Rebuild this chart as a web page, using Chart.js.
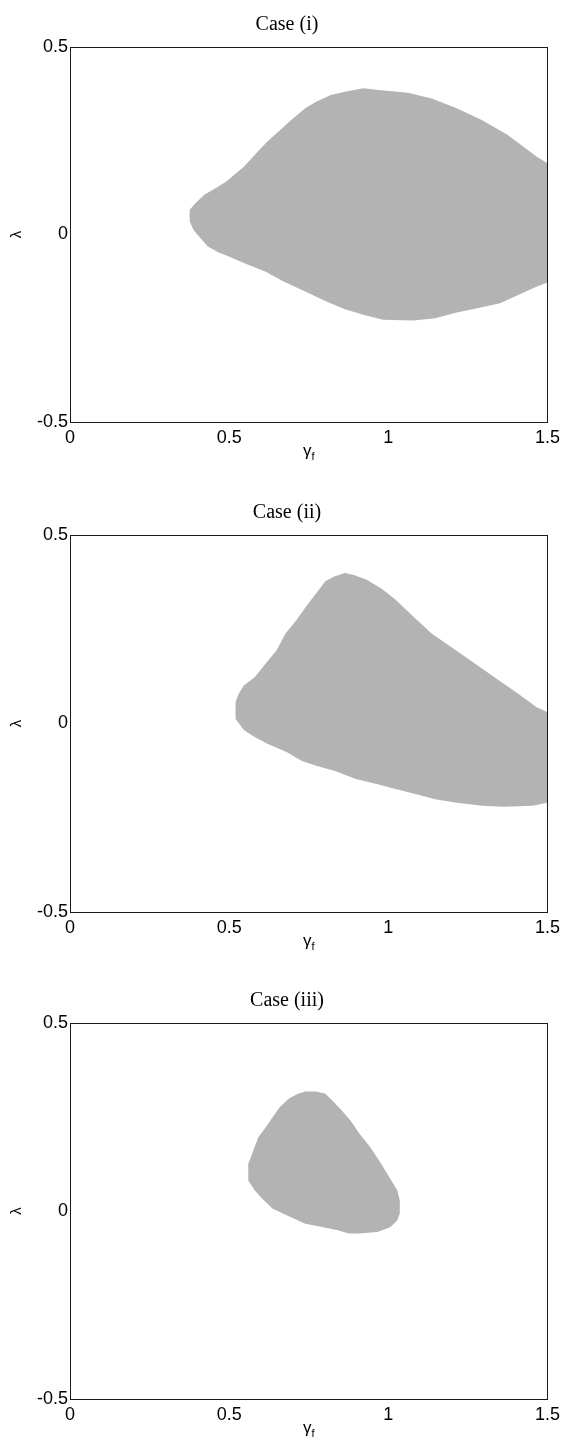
<!DOCTYPE html>
<html>
<head>
<meta charset="utf-8">
<script src="https://cdn.jsdelivr.net/npm/chart.js@4.4.1/dist/chart.umd.min.js"></script>
<style>
  html, body { margin: 0; padding: 0; background: #fff; }
  body { width: 565px; height: 1446px; position: relative; overflow: hidden; }
  canvas { position: absolute; left: 0; }
</style>
</head>
<body>
<canvas id="c1" width="565" height="480" style="top:0px"></canvas>
<canvas id="c2" width="565" height="480" style="top:480px"></canvas>
<canvas id="c3" width="565" height="486" style="top:960px"></canvas>
<script>
// ---- Data ----
const titles = ['Case (i)', 'Case (ii)', 'Case (iii)'];
const xTicks = [0, 0.5, 1, 1.5];
const xTickLabels = ['0', '0.5', '1', '1.5'];
const yTicks = [-0.5, 0, 0.5];
const yTickLabels = ['-0.5', '0', '0.5'];
const xLabelMain = 'γ';
const xLabelSub = 'f';
const yLabel = 'λ';

// Case (i): upper and lower boundary of the shaded region
const case1UpperGamma  = [0.376, 0.393, 0.422, 0.452, 0.490, 0.546, 0.580, 0.620, 0.654, 0.694, 0.739, 0.773, 0.819, 0.864, 0.921, 0.977, 1.062, 1.136, 1.215, 1.295, 1.374, 1.431, 1.465, 1.500];
const case1UpperLambda = [0.066, 0.083, 0.106, 0.121, 0.141, 0.181, 0.212, 0.248, 0.274, 0.305, 0.337, 0.354, 0.372, 0.381, 0.390, 0.385, 0.378, 0.363, 0.337, 0.305, 0.266, 0.230, 0.208, 0.190];
const case1LowerGamma  = [0.376, 0.388, 0.410, 0.433, 0.467, 0.501, 0.546, 0.615, 0.671, 0.739, 0.807, 0.864, 0.921, 0.983, 1.079, 1.147, 1.215, 1.283, 1.351, 1.408, 1.465, 1.500];
const case1LowerLambda = [0.035, 0.012, -0.010, -0.032, -0.048, -0.059, -0.076, -0.099, -0.125, -0.152, -0.179, -0.199, -0.214, -0.227, -0.229, -0.223, -0.208, -0.196, -0.183, -0.161, -0.139, -0.128];

// Case (ii)
const case2UpperGamma  = [0.520, 0.530, 0.546, 0.580, 0.615, 0.649, 0.677, 0.711, 0.745, 0.773, 0.802, 0.830, 0.864, 0.892, 0.932, 0.977, 1.023, 1.079, 1.136, 1.204, 1.272, 1.340, 1.408, 1.465, 1.500];
const case2UpperLambda = [0.057, 0.079, 0.101, 0.123, 0.159, 0.194, 0.239, 0.274, 0.314, 0.345, 0.377, 0.390, 0.399, 0.394, 0.381, 0.359, 0.328, 0.283, 0.239, 0.199, 0.159, 0.119, 0.079, 0.044, 0.030];
const case2LowerGamma  = [0.520, 0.524, 0.546, 0.580, 0.620, 0.682, 0.727, 0.773, 0.830, 0.898, 0.966, 1.023, 1.085, 1.147, 1.215, 1.295, 1.363, 1.453, 1.500];
const case2LowerLambda = [0.012, 0.008, -0.017, -0.036, -0.054, -0.076, -0.099, -0.112, -0.125, -0.147, -0.161, -0.174, -0.187, -0.201, -0.210, -0.218, -0.221, -0.218, -0.210];

// Case (iii)
const case3UpperGamma  = [0.560, 0.569, 0.580, 0.592, 0.615, 0.637, 0.660, 0.688, 0.716, 0.739, 0.773, 0.802, 0.824, 0.853, 0.881, 0.909, 0.943, 0.977, 1.006, 1.028, 1.036];
const case3UpperLambda = [0.126, 0.144, 0.170, 0.197, 0.223, 0.250, 0.277, 0.299, 0.312, 0.318, 0.318, 0.312, 0.294, 0.268, 0.241, 0.206, 0.170, 0.126, 0.086, 0.055, 0.028];
const case3LowerGamma  = [0.560, 0.563, 0.580, 0.603, 0.637, 0.682, 0.739, 0.796, 0.841, 0.875, 0.909, 0.966, 1.006, 1.028, 1.036];
const case3LowerLambda = [0.082, 0.077, 0.055, 0.033, 0.006, -0.012, -0.034, -0.043, -0.051, -0.060, -0.060, -0.056, -0.043, -0.025, -0.007];

const regionColor = '#b3b3b3';

function polygon(ug, ul, lg, ll) {
  const pts = [];
  for (let i = 0; i < ug.length; i++) pts.push({ x: ug[i], y: ul[i] });
  for (let i = lg.length - 1; i >= 0; i--) pts.push({ x: lg[i], y: ll[i] });
  return pts;
}

const frameAndLabels = {
  id: 'frameAndLabels',
  afterDatasetsDraw(chart, args, opts) {
    const { ctx, chartArea: a } = chart;
    ctx.save();
    ctx.strokeStyle = '#1a1a1a';
    ctx.lineWidth = 1;
    const L = Math.floor(a.left) + 0.5, R = Math.floor(a.right) + 0.5;
    const T = Math.floor(a.top) + 0.5, B = Math.floor(a.bottom) + 0.5;
    ctx.strokeRect(L, T, R - L, B - T);
    ctx.fillStyle = '#000';
    ctx.font = '20px "Liberation Serif", "Times New Roman", serif';
    ctx.textAlign = 'center';
    ctx.textBaseline = 'middle';
    ctx.fillText(opts.title, 287, a.top - 22);
    ctx.save();
    ctx.translate(17, (a.top + a.bottom) / 2);
    ctx.rotate(-Math.PI / 2);
    ctx.font = '15px "Liberation Sans", Arial, sans-serif';
    ctx.textAlign = 'center';
    ctx.textBaseline = 'middle';
    ctx.fillText(yLabel, 0, 0);
    ctx.restore();
    ctx.font = '17px "Liberation Sans", Arial, sans-serif';
    ctx.textAlign = 'left';
    ctx.textBaseline = 'alphabetic';
    const mainW = ctx.measureText(xLabelMain).width;
    ctx.font = '11px "Liberation Sans", Arial, sans-serif';
    const subW = ctx.measureText(xLabelSub).width;
    const cx = (a.left + a.right) / 2;
    const x0 = cx - (mainW + subW) / 2;
    const base = a.bottom + 34;
    ctx.font = '17px "Liberation Sans", Arial, sans-serif';
    ctx.fillText(xLabelMain, x0, base);
    ctx.font = '11px "Liberation Sans", Arial, sans-serif';
    ctx.fillText(xLabelSub, x0 + mainW, base + 4);
    ctx.restore();
  }
};

function makeChart(id, title, pts, top, bottom) {
  return new Chart(document.getElementById(id), {
    type: 'scatter',
    data: {
      datasets: [{
        data: pts,
        showLine: true,
        fill: 'shape',
        backgroundColor: regionColor,
        borderColor: regionColor,
        borderWidth: 0,
        pointRadius: 0,
        pointHoverRadius: 0,
        tension: 0
      }]
    },
    options: {
      responsive: false,
      animation: false,
      events: [],
      layout: { padding: { left: 0, right: 17, top: top, bottom: 0 } },
      plugins: {
        legend: { display: false },
        tooltip: { enabled: false },
        frameAndLabels: { title: title }
      },
      scales: {
        x: {
          type: 'linear',
          min: 0, max: 1.5,
          afterBuildTicks: s => { s.ticks = xTicks.map(v => ({ value: v })); },
          afterFit: s => { s.height = bottom; },
          grid: { display: false, drawTicks: false },
          border: { display: false },
          ticks: {
            autoSkip: false, maxRotation: 0, minRotation: 0, padding: 5,
            color: '#000',
            font: { family: '"Liberation Sans", Arial, sans-serif', size: 18 },
            callback: v => xTickLabels[xTicks.indexOf(v)]
          }
        },
        y: {
          type: 'linear',
          min: -0.5, max: 0.5,
          afterBuildTicks: s => { s.ticks = yTicks.map(v => ({ value: v })); },
          afterFit: s => { s.width = 70; },
          grid: { display: false, drawTicks: false },
          border: { display: false },
          ticks: {
            autoSkip: false, padding: 2,
            color: '#000',
            font: { family: '"Liberation Sans", Arial, sans-serif', size: 18 },
            callback: v => yTickLabels[yTicks.indexOf(v)]
          }
        }
      }
    },
    plugins: [frameAndLabels]
  });
}

makeChart('c1', titles[0], polygon(case1UpperGamma, case1UpperLambda, case1LowerGamma, case1LowerLambda), 47, 58);
makeChart('c2', titles[1], polygon(case2UpperGamma, case2UpperLambda, case2LowerGamma, case2LowerLambda), 55, 48);
makeChart('c3', titles[2], polygon(case3UpperGamma, case3UpperLambda, case3LowerGamma, case3LowerLambda), 63, 47);
</script>
</body>
</html>
